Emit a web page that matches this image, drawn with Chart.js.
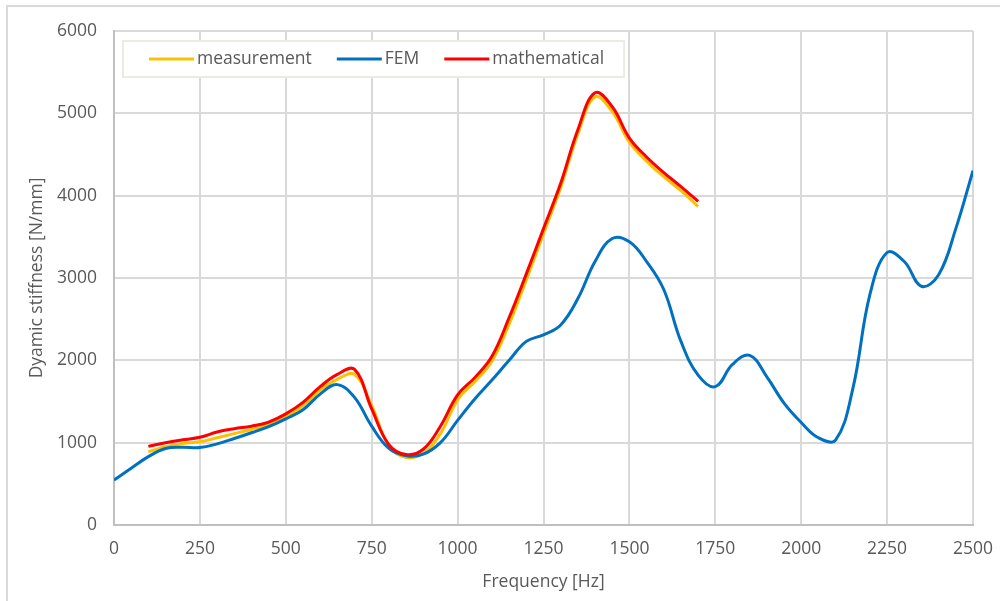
<!DOCTYPE html>
<html>
<head>
<meta charset="utf-8">
<script src="https://cdn.jsdelivr.net/npm/chart.js@4.4.1/dist/chart.umd.min.js"></script>
<style>
  html, body { margin: 0; padding: 0; background: #fff; overflow: hidden; }
  #frame { position: absolute; left: 6px; top: 5px; width: 1100px; height: 700px;
           border-left: 2px solid #d9d9d9; border-top: 2px solid #d9d9d9; }
  #wrap { position: absolute; left: 0; top: 0; width: 1000px; height: 601px; }
</style>
</head>
<body>
<div id="frame"></div>
<div id="wrap"><canvas id="stiffChart" width="1000" height="601"></canvas></div>
<script>
// frequencies [Hz] and values [N/mm]
const freqTest = [100, 150, 200, 250, 300, 350, 400, 450, 500, 550, 600, 650, 700, 750, 800, 850,
  900, 950, 1000, 1050, 1100, 1150, 1200, 1250, 1300, 1350, 1400, 1450, 1500, 1550, 1600, 1650, 1700];
const measurement = [890, 950, 990, 1010, 1060, 1110, 1160, 1220, 1310, 1450, 1640, 1770, 1830, 1450, 960, 820,
  870, 1110, 1520, 1740, 1990, 2440, 2980, 3540, 4100, 4750, 5200, 5020, 4650, 4420, 4230, 4060, 3870];
const mathematical = [955, 1000, 1035, 1065, 1130, 1170, 1200, 1250, 1350, 1490, 1680, 1830, 1890, 1410, 975, 855,
  920, 1200, 1580, 1790, 2050, 2520, 3050, 3600, 4150, 4800, 5250, 5080, 4700, 4470, 4280, 4110, 3930];

const freqFem = [0, 50, 100, 150, 200, 250, 300, 350, 400, 450, 500, 550, 600, 650, 700, 750, 800, 850, 900, 950,
  1000, 1050, 1100, 1150, 1200, 1250, 1300, 1350, 1400, 1450, 1500, 1550, 1600, 1650, 1700, 1750, 1800, 1850, 1900,
  1950, 2000, 2050, 2100, 2150, 2200, 2250, 2300, 2350, 2400, 2450, 2500];
const fem = [545, 690, 830, 930, 945, 940, 985, 1050, 1120, 1195, 1290, 1400, 1590, 1705, 1550, 1200, 930, 840, 860, 1000,
  1270, 1530, 1760, 2000, 2230, 2310, 2430, 2750, 3200, 3480, 3440, 3200, 2860, 2230, 1820, 1680, 1950, 2060, 1800,
  1480, 1245, 1060, 1030, 1650, 2800, 3310, 3200, 2900, 3040, 3600, 4305];

const xTicks = [0, 250, 500, 750, 1000, 1250, 1500, 1750, 2000, 2250, 2500];
const yTicks = [0, 1000, 2000, 3000, 4000, 5000, 6000];

const seriesNames = ['measurement', 'FEM', 'mathematical'];
const seriesColors = ['#FFC000', '#0070C0', '#FF0000'];

const txtColor = '#595959';
const fontFam = "'Open Sans', 'Noto Sans', sans-serif";
const fontSize = 17.5;

function pairs(xs, ys) {
  return xs.map((x, i) => ({ x: x, y: ys[i] }));
}

// legend box drawn inside the plot, top left
const boxLegend = {
  id: 'boxLegend',
  afterDraw(chart) {
    const c = chart.ctx;
    const area = chart.chartArea;
    const left = area.left + 9, top = 41, h = 36;
    c.save();
    c.font = fontSize + 'px ' + fontFam;
    let x = left + 26;
    const items = [];
    chart.data.datasets.forEach(ds => {
      const w = c.measureText(ds.label).width;
      items.push({ x: x, ds: ds, w: w });
      x += 45 + 3 + w + 25;
    });
    const right = x - 25 + 20;
    c.fillStyle = '#fff';
    c.fillRect(left, top, right - left, h);
    c.strokeStyle = '#ecebe3';
    c.lineWidth = 2;
    c.strokeRect(left, top, right - left, h);
    const midY = top + h / 2;
    items.forEach(it => {
      c.strokeStyle = it.ds.borderColor;
      c.lineWidth = 3;
      c.beginPath();
      c.moveTo(it.x, midY);
      c.lineTo(it.x + 45, midY);
      c.stroke();
      c.fillStyle = txtColor;
      c.textBaseline = 'middle';
      c.textAlign = 'left';
      c.fillText(it.ds.label, it.x + 48, midY);
    });
    c.restore();
  }
};

const ctx = document.getElementById('stiffChart');

new Chart(ctx, {
  type: 'line',
  data: {
    datasets: [
      { label: seriesNames[0], data: pairs(freqTest, measurement), borderColor: seriesColors[0], order: 3 },
      { label: seriesNames[1], data: pairs(freqFem, fem), borderColor: seriesColors[1], order: 2 },
      { label: seriesNames[2], data: pairs(freqTest, mathematical), borderColor: seriesColors[2], order: 1 }
    ]
  },
  options: {
    responsive: false,
    animation: false,
    layout: { padding: { left: 0, top: 31, right: 27, bottom: 0 } },
    elements: {
      line: { borderWidth: 3, tension: 0.4, fill: false },
      point: { radius: 0 }
    },
    plugins: {
      legend: { display: false },
      tooltip: { enabled: false }
    },
    scales: {
      x: {
        type: 'linear',
        min: 0, max: 2500,
        afterFit(s) { s.height = 76; s.paddingLeft = 0; s.paddingRight = 0; },
        afterBuildTicks(s) { s.ticks = xTicks.map(v => ({ value: v })); },
        grid: { color: '#d9d9d9', lineWidth: 2, drawTicks: false },
        border: { color: '#bfbfbf', width: 2 },
        ticks: { color: txtColor, font: { family: fontFam, size: fontSize }, padding: 14,
                 maxRotation: 0, callback: v => String(v) },
        title: { display: true, text: 'Frequency [Hz]', color: txtColor,
                 font: { family: fontFam, size: fontSize }, padding: { top: 0, bottom: 8 } }
      },
      y: {
        type: 'linear',
        min: 0, max: 6000,
        afterFit(s) { s.width = 114; s.paddingTop = 0; s.paddingBottom = 0; },
        afterBuildTicks(s) { s.ticks = yTicks.map(v => ({ value: v })); },
        grid: { color: '#d9d9d9', lineWidth: 2, drawTicks: false },
        border: { color: '#bfbfbf', width: 2 },
        ticks: { color: txtColor, font: { family: fontFam, size: fontSize }, padding: 17,
                 callback: v => String(v) },
        title: { display: true, text: 'Dyamic stiffness [N/mm]', color: txtColor,
                 font: { family: fontFam, size: fontSize }, padding: { top: 27, bottom: 0 } }
      }
    }
  },
  plugins: [boxLegend]
});
</script>
</body>
</html>
